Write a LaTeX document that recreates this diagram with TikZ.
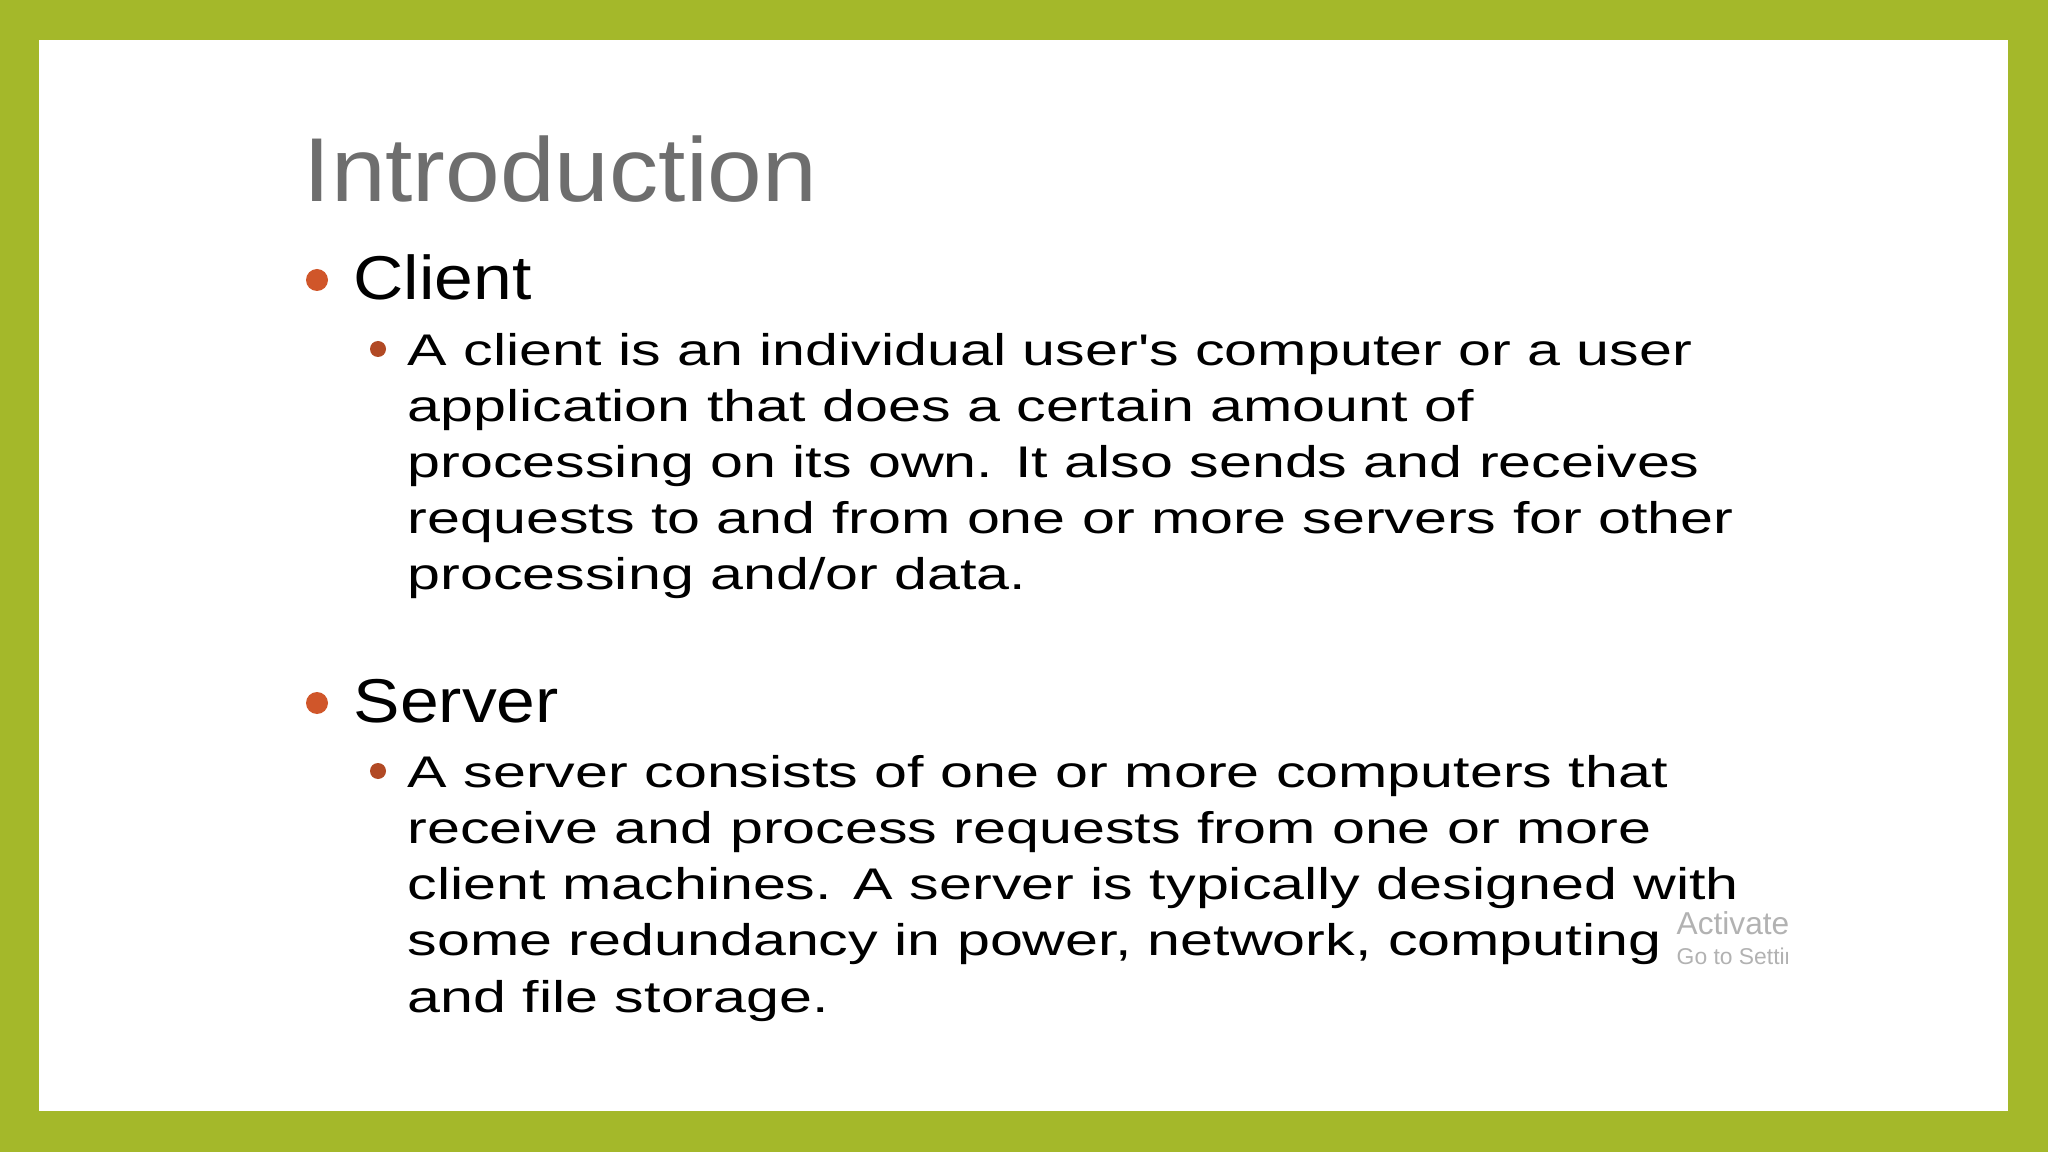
\documentclass[tikz,border=0pt]{standalone}
\usepackage{fontspec}
\setmainfont{Liberation Sans}
\definecolor{olive}{HTML}{A4B82A}
\definecolor{bul}{HTML}{D0562A}
\definecolor{ttl}{HTML}{6E6E6E}
\newcommand{\bx}[1]{\scalebox{1.336}[1]{#1}}
\begin{document}
\begin{tikzpicture}[x=0.01cm,y=-0.01cm,
  body/.style={anchor=base west,inner sep=0,font=\fontsize{12.6}{14}\selectfont},
  head/.style={anchor=base west,inner sep=0,font=\fontsize{17.6}{20}\selectfont},
  wm/.style={anchor=base west,inner sep=0,text=gray!60,font=\fontsize{6.5}{8}\selectfont}]
\fill[olive] (0,0) rectangle (2048,1152);
\fill[white] (39,40) rectangle (2008,1111);
\useasboundingbox (0,0) rectangle (2048,1152);
\node[anchor=base west,inner sep=0,text=ttl,font=\fontsize{25.8}{30}\selectfont] (t) at (303,202) {\scalebox{1.083}[1]{Introduction}};
\fill[bul] (317,280) circle (11);
\node[head] (c) at (353,300) {\scalebox{1.125}[1]{Client}};
\fill[bul!85!black] (378,349) circle (8);
\node[body] (c1) at (407,366) {\bx{A client is an individual user\textquotesingle s computer or a user}};
\node[body] (c2) at (407,422) {\bx{application that does a certain amount of}};
\node[body] (c3) at (407,478) {\bx{processing on its own. It also sends and receives}};
\node[body] (c4) at (407,534) {\bx{requests to and from one or more servers for other}};
\node[body] (c5) at (407,590) {\bx{processing and/or data.}};
\fill[bul] (317,703) circle (11);
\node[head] (s) at (353,722) {\scalebox{1.125}[1]{Server}};
\fill[bul!85!black] (378,771) circle (8);
\node[body] (s1) at (407,787) {\bx{A server consists of one or more computers that}};
\node[body] (s2) at (407,843) {\bx{receive and process requests from one or more}};
\node[body] (s3) at (407,899) {\bx{client machines. A server is typically designed with}};
\node[body] (s4) at (407,955) {\bx{some redundancy in power, network, computing}};
\node[body] (s5) at (407,1012) {\bx{and file storage.}};
\begin{scope}
\clip (1670,900) rectangle (1787,980);
\node[wm,font=\fontsize{9}{10}\selectfont] (w1) at (1676,934) {Activate Windows};
\node[wm] (w2) at (1676,964) {Go to Settings to activate};
\end{scope}
\end{tikzpicture}
\end{document}
